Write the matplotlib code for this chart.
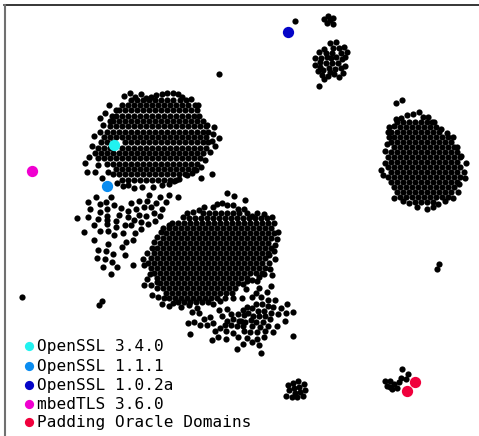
import matplotlib
matplotlib.use('Agg')
import matplotlib.pyplot as plt

# todo leido a ojo de la imagen, en unidades de pixel
blob_a_borde = [(130,93),(124,96),(135,97),(141,94),(146,98),(151,97),(156,95),(162,94),(167,93),(173,93),(178,94),(182,97),(191,99),(198,105),
    (109,105),(105,113),(100,118),(116,110),(103,125),(100,132),(94,136),(92,146),(89,157),(85,163),(87,172),(95,172),(98,165),(102,178),
    (108,172),(113,174),(117,183),(123,186),(128,185),(134,188),(142,187),(153,187),(162,185),(169,184),(174,181),(179,179),(187,175),(192,173),
    (196,170),(201,167),(205,160),(210,152),(215,146),(219,138),(214,127),(207,125),(213,134),(212,141),(201,178),(212,174)]
blob_a_filas = [
    (100,[131,137.5,143,149,155.5,161,167,173.5,180,186]),
    (105,[122,128.5,134,140,146.5,152,158,164.5,170,176,182.5,188,195]),
    (110.5,[119,125,131.5,137,143,149.5,155,161,167.5,173,179,185.5,191,197]),
    (116,[112,116.5,122,128,134.5,140,146,152.5,158,164,170.5,176,182,188.5,194,199]),
    (121,[110,113.5,119,125,131.5,137,143,149.5,155,161,167.5,173,179,185.5,191,197,203]),
    (126.5,[110,116.5,122,128,134.5,140,146,152.5,158,164,170.5,176,182,188.5,194,200,206]),
    (132,[107,113.5,119,125,131.5,137,143,149.5,155,161,167.5,173,179,185.5,191,197,203,208]),
    (137,[104,110.5,116,122,128.5,134,140,146.5,152,158,164.5,170,176,182.5,188,194,200.5,206]),
    (142.5,[101,107.5,113,125,131,137.5,143,149,155.5,161,167,173.5,179,185,191.5,197,203,208]),
    (148,[98,104.5,110,122,128.5,134,140,146.5,152,158,164.5,170,176,182.5,188,194,200.5,206]),
    (153,[95,101,107.5,113,119,125.5,131,137,143.5,149,155,161.5,167,173,179.5,185,191,197.5,203]),
    (158.5,[98,104.5,110,116,122.5,128,134,140.5,146,152,158.5,164,170,176.5,182,188,194.5,200]),
    (164,[107,113.5,119,125,131.5,137,143,149.5,155,161,167.5,173,179,185.5,191,197]),
    (169,[116,122.5,128,134,140.5,146,152,158.5,164,170,176.5,182,188,194]),
    (174.5,[119,125.5,131,137,143.5,149,155,161.5,167,173,179.5,185]),
    (180,[122,128.5,134,140,146.5,152,158,164.5,170,176]),
]

blob_c_borde = [(227,193),(234,196),(245,200),(244,209),(257,213),(264,214),(272,217),(247,213),(252,216),(217,204),(222,203),(227,205),(233,205),
    (238,209),(204,207),(213,207),(199,210),(193,212),(187,213),(183,217),(169,225),(161,232),(157,237),(154,242),(152,248),(147,253),(143,259),
    (144,265),(151,268),(150,274),(147,279),(144,285),(151,285),(157,282),(152,295),(158,297),(164,298),(162,304),(169,306),(173,303),(181,307),
    (189,305),(197,308),(213,304),(220,301),(233,298),(278,232),(277,239),(275,245),(274,251),(275,259),(269,255),(269,263),(270,269),(272,275),
    (264,274),(259,277),(257,281),(252,280),(247,281),(243,284)]
blob_c_filas = [
    (213,[203,209.5,215,221.5,227,233,239]),
    (218,[189,195.5,201,207,213.5,219,225,231.5,237,243,249.5,255,261,267]),
    (223,[172,178.5,184,190,196.5,202,208,214.5,220,226,232.5,238,244,250.5,256,262,268.5,274]),
    (228,[163,169.5,175,181,187.5,193,199,205.5,211,217,223.5,229,235,241.5,247,253,259.5,265,271]),
    (233,[166,172.5,178,184,190.5,196,202,208.5,214,220,226.5,232,238,244.5,250,256,262.5,268,274]),
    (238,[163,169.5,175,181,187.5,193,199,205.5,211,217,223.5,229,235,241.5,247,253,259.5,265,271]),
    (243,[160,166.5,172,178,184.5,190,196,202.5,208,214,220.5,226,232,238.5,244,250,256.5,262,268]),
    (248,[157,163.5,169,175,181.5,187,193,199.5,205,211,217.5,223,229,235.5,241,247,253.5,259,265,271]),
    (253,[154,160.5,166,172,178.5,184,190,196.5,202,208,214.5,220,226,232.5,238,244,250.5,256,262,268]),
    (258,[151,157.5,163,169,175.5,181,187,193.5,199,205,211.5,217,223,229.5,235,241,247.5,253,259,265]),
    (263,[148,154.5,160,166,172.5,178,184,190.5,196,202,208.5,214,220,226.5,232,238,244.5,250,256,262]),
    (268,[157,163.5,169,175,181.5,187,193,199.5,205,211,217.5,223,229,235.5,241,247,253.5,259,265]),
    (273,[154,160.5,166,172,178.5,184,190,196.5,202,208,214.5,220,226,232.5,238,244,250.5,256,262]),
    (278,[157,163.5,169,175,181.5,187,193,199.5,205,211,217.5,223,229,235.5,241,247]),
    (283,[160,166.5,172,178,184.5,190,196,202.5,208,214,220.5,226,232,238]),
    (288,[157,163.5,169,175,181.5,187,193,199.5,205,211,217.5,223,229,235.5]),
    (293,[166,172.5,178,184,190.5,196,202,208.5,214,220,226.5,232]),
    (298,[169,175.5,181,187,193.5,199,205,211.5,217,225]),
    (302,[178,184.5,190,196,202.5,208]),
]

blob_d_borde = [(419,112),(413,114),(407,115),(401,118),(423,117),(428,117),(397,122),(389,127),(394,126),(434,122),(441,129),(447,133),(453,137),
    (457,147),(461,156),(466,163),(464,172),(465,178),(459,184),(458,192),(453,198),(445,201),(438,204),(433,207),(427,209),(417,207),(409,203),
    (403,201),(394,198),(383,175),(381,170),(385,163),(385,151),(387,144),(389,137),(388,132),(396,119)]
blob_d_filas = [
    (122,[403,409.5,415,421,427.5,432]),
    (127,[400,406.5,412,418,424.5,430,436]),
    (132,[391,397.5,403,409,415.5,421,427,433.5,439]),
    (137,[394,400.5,406,412,418.5,424,430,436.5,442,448]),
    (142,[391,397.5,403,409,415.5,421,427,433.5,439,445,451]),
    (147,[394,400.5,406,412,418.5,424,430,436.5,442,448,454]),
    (152,[391,397.5,403,409,415.5,421,427,433.5,439,445,451.5,457]),
    (157,[388,394.5,400,406,412.5,418,424,430.5,436,442,448.5,454,460]),
    (162,[391,397.5,403,409,415.5,421,427,433.5,439,445,451.5,457]),
    (167,[388,394.5,400,406,412.5,418,424,430.5,436,442,448.5,454,460]),
    (172,[391,397.5,403,409,415.5,421,427,433.5,439,445,451.5,457]),
    (177,[388,394.5,400,406,412.5,418,424,430.5,436,442,448.5,454,460]),
    (182,[391,397.5,403,409,415.5,421,427,433.5,439,445,451.5,457]),
    (187,[394,400.5,406,412,418.5,424,430,436.5,442,448,454]),
    (192,[397,403.5,409,415,421.5,427,433,439.5,445,451]),
    (197,[400,406.5,412,418,424.5,430,436,442.5,448]),
    (202,[415,421.5,427,433]),
]

disperso_f = [(96,197),(88,202),(111,197),(106,202),(100,204),(114,205),(90,209),(107,209),(100,212),(121,208),(131,203),(139,201),(147,201),(149,195),
    (160,197),(169,195),(178,197),(166,202),(156,203),(151,207),(144,207),(136,209),(128,211),(162,209),(154,213),(119,215),(107,216),(88,217),
    (77,218),(139,215),(146,216),(160,216),(128,217),(98,219),(107,220),(116,221),(134,220),(141,222),(148,224),(155,221),(94,225),(107,224),
    (116,227),(125,225),(131,225),(141,229),(100,231),(108,231),(84,232),(114,235),(123,233),(135,233),(94,240),(108,244),(126,242),(133,240),
    (98,250),(106,251),(113,254),(122,247),(125,255),(97,258),(105,259),(112,262),(103,267),(117,267),(133,265),(111,274)]
disperso_g = [(188,323),(194,322),(200,325),(207,325),(213,323),(215,331),(220,328),(225,325),(231,325),(237,326),(190,334),(212,340),(218,337),
    (226,339),(226,331),(233,333),(238,337),(237,349),(231,314),(238,314),(222,316),(227,321),(233,319),(239,321),(192,312),(199,313),(210,317),
    (204,319),(219,310),(227,309),(271,286),(259,288),(246,289),(267,292),(256,293),(252,297),(261,297),(242,298),(268,300),(275,300),(287,304),
    (281,308),(273,307),(268,306),(262,304),(256,304),(247,307),(252,308),(243,310),(258,311),(264,311),(286,313),(293,312),(278,314),(271,313),
    (248,313),(253,316),(259,316),(265,316),(244,315),(270,319),(285,321),(251,320),(256,322),(263,322),(245,322),(241,321),(277,326),(268,326),
    (260,327),(252,326),(243,326),(265,331),(273,332),(257,332),(250,332),(244,331),(264,337),(293,336),(257,339),(247,338),(252,342),(243,344),
    (259,345),(261,353)]
grupo_e = [(330,43),(336,42),(344,47),(347,52),(339,48),(333,48),(324,49),(319,52),(326,53),(332,53),(341,53),(345,57),(315,58),(321,58),(327,57),
    (331,58),(336,57),(342,59),(315,65),(320,62),(320,67),(326,63),(332,63),(338,63),(345,66),(318,71),(323,70),(329,68),(335,69),(341,68),(343,73),(322,75),(328,76),
    (334,74),(339,77),(324,79),(319,86),(330,72)]
grupo_h = [(288,385),(293,383),(298,381),(304,384),(289,390),(294,388),(299,387),(305,390),(286,396),(292,397),(297,397),(303,396),(295,393),(300,392)]
grupo_i = [(402,369),(408,374),(406,379),(401,378),(399,382),(385,381),(390,381),(387,386),(394,384),(397,388),(392,389),(390,387)]
grupo_arriba = [(328,16),(324,19),(333,18),(327,23),(333,24),(330,20)]
sueltos = [(295,21),(219,74),(396,103),(402,100),(22,297),(102,301),(99,305),(439,264),(437,269)]

openssl_340 = [(114,145)]
openssl_111 = [(107,186)]
openssl_102a = [(288,32)]
mbedtls_360 = [(32,171)]
padding_oracle = [(415,382),(407,391)]

etiquetas = ['OpenSSL 3.4.0','OpenSSL 1.1.1','OpenSSL 1.0.2a','mbedTLS 3.6.0','Padding Oracle Domains']
colores = ['#22f2f0','#0a8cf0','#0505c8','#f000d0','#f0003c']
destacados = [openssl_340,openssl_111,openssl_102a,mbedtls_360,padding_oracle]
leyenda_y = [346,366,385,404,422]


def desde_filas(filas):
    puntos = []
    for y, xs in filas:
        for x in xs:
            puntos.append((x, y))
    return puntos


negros = (blob_a_borde + desde_filas(blob_a_filas) + blob_c_borde + desde_filas(blob_c_filas)
          + blob_d_borde + desde_filas(blob_d_filas) + disperso_f + disperso_g
          + grupo_e + grupo_h + grupo_i + grupo_arriba + sueltos)

fig = plt.figure(figsize=(4.79,4.36), dpi=100)
ax = fig.add_axes([0,0,1,1])
ax.set_xlim(0,479)
ax.set_ylim(436,0)
ax.axis('off')

# marco: solo arriba e izquierda
ax.plot([4,479],[5,5],color='black',lw=1.1)
ax.plot([5,5],[5,436],color='#707070',lw=1.5)

ax.scatter([p[0] for p in negros],[p[1] for p in negros],s=20,c='black',linewidths=0,zorder=2)

for puntos, color in zip(destacados,colores):
    ax.scatter([p[0] for p in puntos],[p[1] for p in puntos],s=66,c=color,linewidths=0,zorder=3)

for etiqueta, color, y in zip(etiquetas,colores,leyenda_y):
    ax.scatter([29],[y],s=44,c=color,linewidths=0,zorder=3)
    ax.text(37.5,y,etiqueta,family='DejaVu Sans Mono',fontsize=11.6,color='black',va='center',ha='left')

fig.savefig('out.png',dpi=100)
